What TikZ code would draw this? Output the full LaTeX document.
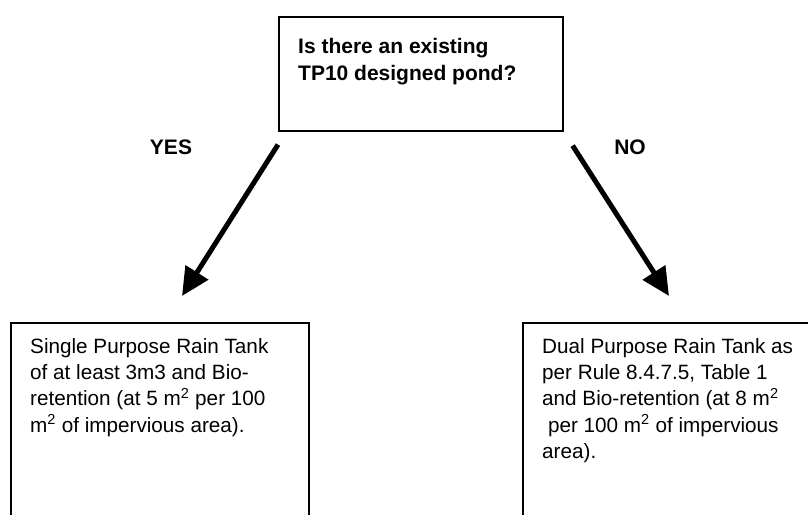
\documentclass[tikz,border=0pt]{standalone}
\usepackage{fontspec}
\setmainfont{Liberation Sans}
\usetikzlibrary{arrows.meta,positioning,calc}
\tikzset{
    qbox/.style={rectangle, draw=black, line width=1.6pt, minimum width=284pt, minimum height=114pt, inner sep=0pt, anchor=north west},
    ansbox/.style={rectangle, draw=black, line width=1.6pt, minimum width=298pt, minimum height=230pt, inner sep=0pt, anchor=north west},
    qtext/.style={anchor=north west, inner sep=0pt, align=left, font=\fontsize{21}{27}\selectfont\bfseries},
    anstext/.style={anchor=north west, inner sep=0pt, align=left, font=\fontsize{20.7}{26.3}\selectfont},
    branch/.style={inner sep=0pt, font=\fontsize{21}{25}\selectfont\bfseries},
    flowarrow/.style={line width=5pt, -{Triangle[length=28pt,width=26pt]}},
}

\begin{document}
\begin{tikzpicture}[x=1pt, y=-1pt]
    \useasboundingbox (0,0) rectangle (808,514);
    \clip (0,0) rectangle (808,514);

    % Question
    \node[qbox] (Q) at (278,16) {};
    \node[qtext] (Qtxt) at (298,38) {Is there an existing\\TP10 designed pond?};

    % Branch labels
    \node[branch] (yes) at (171,147) {YES};
    \node[branch] (no) at (630,147) {NO};

    % Answers (run off the page)
    \node[ansbox] (A1) at (10,322) {};
    \node[anstext] (A1txt) at (30,338) {Single Purpose Rain Tank\\of at least 3m3 and Bio-\\retention (at 5 m\textsuperscript{2} per 100\\m\textsuperscript{2} of impervious area).};
    \node[ansbox] (A2) at (522,322) {};
    \node[anstext] (A2txt) at (542,338) {Dual Purpose Rain Tank as\\per Rule 8.4.7.5, Table 1\\and Bio-retention (at 8 m\textsuperscript{2}\\\hspace*{0.28em}per 100 m\textsuperscript{2} of impervious\\area).};

    % Arrows
    \coordinate (yesend) at (182,296);
    \coordinate (noend) at (669,296);
    \draw[flowarrow] ([yshift=-13pt]Q.south west) -- (yesend);
    \draw[flowarrow] ([xshift=9pt,yshift=-14pt]Q.south east) -- (noend);
\end{tikzpicture}
\end{document}
